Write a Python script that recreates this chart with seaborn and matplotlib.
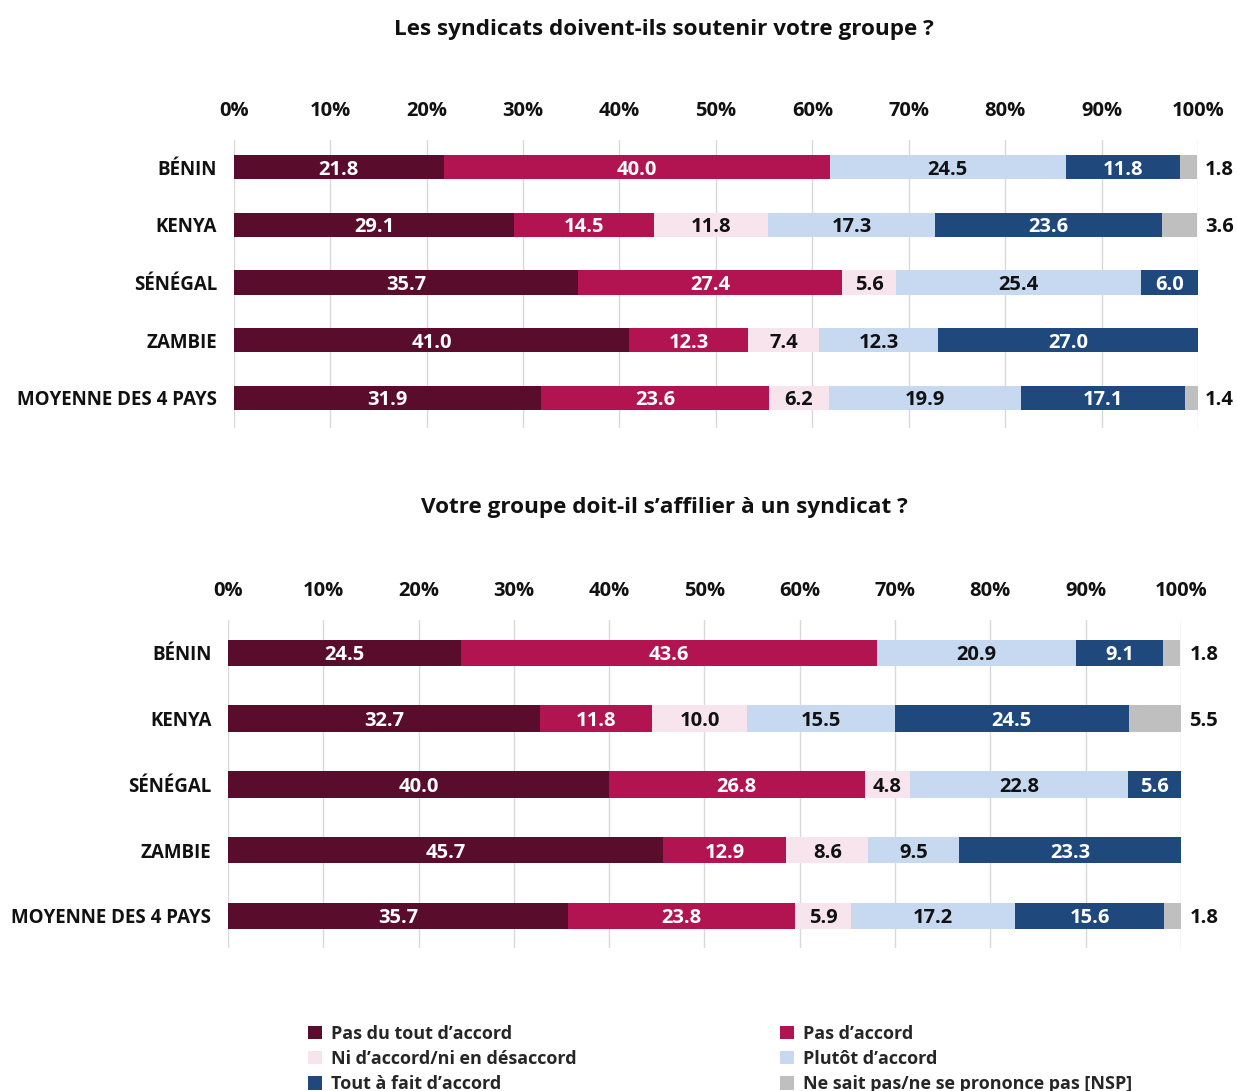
import numpy as np
import pandas as pd
import matplotlib
matplotlib.use("Agg")
import matplotlib.pyplot as plt
import seaborn as sns
from matplotlib.patches import Patch

sns.set_theme(style="white")
plt.rcParams["font.family"] = ["Open Sans", "DejaVu Sans"]

countries = ["BÉNIN", "KENYA", "SÉNÉGAL", "ZAMBIE", "MOYENNE DES 4 PAYS"]
categories = ["Pas du tout d’accord", "Pas d’accord", "Ni d’accord/ni en désaccord",
              "Plutôt d’accord", "Tout à fait d’accord", "Ne sait pas/ne se prononce pas [NSP]"]
colors = ["#5a0c2c", "#b11450", "#f8e4ec", "#c6d9f0", "#1f497d", "#bfbfbf"]
text_colors = ["white", "white", "#111111", "#111111", "white", "#111111"]

# Question 1: Les syndicats doivent-ils soutenir votre groupe ?
q1_pas_du_tout = [21.8, 29.1, 35.7, 41.0, 31.9]
q1_pas_accord = [40.0, 14.5, 27.4, 12.3, 23.6]
q1_ni = [0.0, 11.8, 5.6, 7.4, 6.2]
q1_plutot = [24.5, 17.3, 25.4, 12.3, 19.9]
q1_tout = [11.8, 23.6, 6.0, 27.0, 17.1]
q1_nsp = [1.8, 3.6, 0.0, 0.0, 1.4]

# Question 2: Votre groupe doit-il s'affilier à un syndicat ?
q2_pas_du_tout = [24.5, 32.7, 40.0, 45.7, 35.7]
q2_pas_accord = [43.6, 11.8, 26.8, 12.9, 23.8]
q2_ni = [0.0, 10.0, 4.8, 8.6, 5.9]
q2_plutot = [20.9, 15.5, 22.8, 9.5, 17.2]
q2_tout = [9.1, 24.5, 5.6, 23.3, 15.6]
q2_nsp = [1.8, 5.5, 0.0, 0.0, 1.8]

title1 = "Les syndicats doivent-ils soutenir votre groupe ?"
title2 = "Votre groupe doit-il s’affilier à un syndicat ?"
tick_labels = [f"{v}%" for v in range(0, 101, 10)]

FS_CAT = 13.5
FS_NUM = 14.5

fig = plt.figure(figsize=(12.37, 10.91), dpi=100)


def draw_panel(ax, series, bar_h, label_pad, nsp_offset, ylims):
    df = pd.DataFrame(dict(zip(categories, series)), index=countries)
    cum = df.cumsum(axis=1)
    # stacked bars: cumulative totals drawn from the widest to the narrowest
    for i in range(len(categories) - 1, -1, -1):
        cat = categories[i]
        d = pd.DataFrame({"pays": countries, "val": cum[cat].values})
        sns.barplot(data=d, x="val", y="pays", orient="h", color=colors[i],
                    width=bar_h, saturation=1, ax=ax, linewidth=0, zorder=3)
    for r, country in enumerate(countries):
        left = 0.0
        for i, cat in enumerate(categories):
            v = df.loc[country, cat]
            if v > 0:
                if i == len(categories) - 1:
                    ax.annotate(f"{v:.1f}", xy=(100, r), xytext=(nsp_offset, 0),
                                textcoords="offset points", ha="left",
                                va="center_baseline", fontsize=FS_NUM,
                                fontweight="bold", color="#111111")
                else:
                    ax.text(left + v / 2, r, f"{v:.1f}", ha="center",
                            va="center_baseline", fontsize=FS_NUM, fontweight="bold",
                            color=text_colors[i], zorder=4)
            left += v
    ax.set_xlim(0, 100)
    ax.set_ylim(*ylims)
    ax.set_xticks(range(0, 101, 10))
    ax.set_xticklabels(tick_labels, fontsize=FS_NUM, fontweight="bold", color="#111111")
    ax.xaxis.tick_top()
    ax.tick_params(axis="x", length=0, pad=13.5)
    ax.tick_params(axis="y", length=0, pad=label_pad)
    for lbl in ax.get_yticklabels():
        lbl.set_fontweight("bold")
        lbl.set_fontsize(FS_CAT)
        lbl.set_color("#111111")
    ax.set_xlabel("")
    ax.set_ylabel("")
    ax.grid(axis="x", color="#d9d9d9", linewidth=1, zorder=0)
    ax.set_axisbelow(True)
    for s in ax.spines.values():
        s.set_visible(False)


ax1 = fig.add_axes([0.189, 0.6077, 0.7795, 0.264])
draw_panel(ax1, [q1_pas_du_tout, q1_pas_accord, q1_ni, q1_plutot, q1_tout, q1_nsp],
           0.42, 12, 5, (4.52, -0.47))
ax2 = fig.add_axes([0.1843, 0.131, 0.7704, 0.3007])
draw_panel(ax2, [q2_pas_du_tout, q2_pas_accord, q2_ni, q2_plutot, q2_tout, q2_nsp],
           0.40, 12, 6, (4.49, -0.50))

fig.text(0.537, 1 - 29 / 1091, title1, ha="center", va="center",
         fontsize=16.2, fontweight="bold", color="#111111")
fig.text(0.537, 1 - 507 / 1091, title2, ha="center", va="center",
         fontsize=16.2, fontweight="bold", color="#111111")

handles = [Patch(facecolor=c, edgecolor="none") for c in colors]
order = [0, 2, 4, 1, 3, 5]
fig.legend([handles[i] for i in order], [categories[i] for i in order],
           ncol=2, loc="lower left", bbox_to_anchor=(0.236, -0.017),
           frameon=False, handlelength=0.75, handleheight=0.75,
           handletextpad=0.5, columnspacing=11.3, labelspacing=0.4,
           prop={"weight": "bold", "size": 13})

fig.savefig("out.png", dpi=100)
